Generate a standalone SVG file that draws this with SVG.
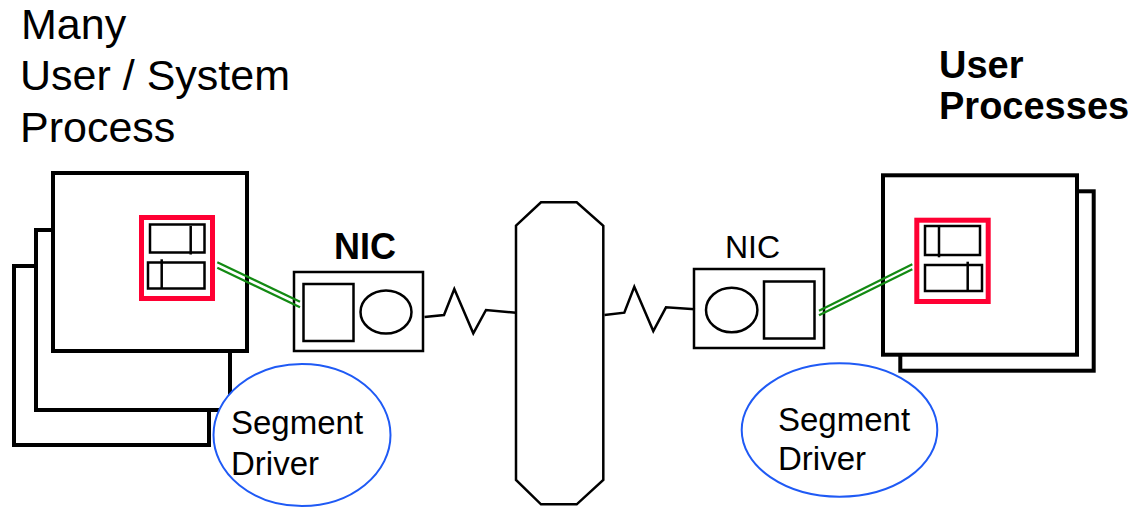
<svg xmlns="http://www.w3.org/2000/svg" width="1133" height="507" viewBox="0 0 1133 507">
  <style>
    .txt { font-family: "Liberation Sans", Arial, sans-serif; fill: #000; }
    .bold { font-weight: bold; }
    .host { fill: #fff; stroke: #000; stroke-width: 4; }
    .nic { fill: #fff; stroke: #000; stroke-width: 2.5; }
    .port { fill: none; stroke: #ff0033; stroke-width: 5; }
    .buf { fill: none; stroke: #000; stroke-width: 2.5; }
    .drv { fill: #fff; stroke: #1f5af5; stroke-width: 2; }
    .wire { fill: none; stroke: #000; stroke-width: 2.5; stroke-linejoin: miter; }
    .link { stroke: #138a13; stroke-width: 2.2; }
  </style>
  <rect width="1133" height="507" fill="#fff"/>

  <!-- headings -->
  <g id="label-left">
    <text class="txt" x="21" y="38.5" font-size="43">Many</text>
    <text class="txt" x="20" y="90" font-size="43">User / System</text>
    <text class="txt" x="20" y="141.5" font-size="43">Process</text>
  </g>
  <g id="label-right">
    <text class="txt bold" x="939" y="78" font-size="38">User</text>
    <text class="txt bold" x="939" y="119" font-size="38">Processes</text>
  </g>

  <!-- left host: stack of process windows -->
  <g id="left-host">
    <rect class="host" x="14" y="266" width="195" height="179"/>
    <rect class="host" x="36" y="230" width="194" height="180"/>
    <rect class="host" x="53" y="173" width="194" height="178"/>
    <rect class="port" x="141.5" y="217.5" width="71" height="81"/>
    <rect class="buf" x="150" y="224.5" width="54.5" height="28"/>
    <line class="buf" x1="190.7" y1="226" x2="190.7" y2="254.5"/>
    <rect class="buf" x="148" y="262.5" width="56.5" height="26"/>
    <line class="buf" x1="161.7" y1="259.3" x2="161.7" y2="288.5"/>
  </g>

  <g id="left-driver">
    <ellipse class="drv" cx="302" cy="435" rx="88.5" ry="71"/>
    <text class="txt" x="231" y="434" font-size="33">Segment</text>
    <text class="txt" x="231" y="475" font-size="33">Driver</text>
  </g>

  <!-- left network interface -->
  <g id="left-nic">
    <text class="txt bold" x="334" y="259" font-size="36">NIC</text>
    <rect class="nic" x="294" y="272" width="129" height="79"/>
    <rect class="nic" x="303.5" y="284" width="50" height="57"/>
    <ellipse class="nic" cx="386" cy="312" rx="25.5" ry="21.5"/>
  </g>

  <!-- shared segment -->
  <g id="bus">
    <polygon class="nic" points="516,225.7 541,202.3 576.7,202.3 603.3,225.7 603.3,480 576.7,504.3 541,504.3 516,480"/>
  </g>

  <!-- right network interface -->
  <g id="right-nic">
    <text class="txt" x="725" y="258.3" font-size="32">NIC</text>
    <rect class="nic" x="694" y="269" width="130" height="79"/>
    <ellipse class="nic" cx="731.7" cy="310" rx="25.7" ry="22.3"/>
    <rect class="nic" x="764" y="281.5" width="50.5" height="57"/>
  </g>

  <!-- right host -->
  <g id="right-host">
    <rect class="host" x="900.3" y="191.3" width="193.4" height="179.4"/>
    <rect class="host" x="883" y="175.3" width="194" height="179.4"/>
    <rect class="port" x="916.8" y="220.2" width="71.4" height="81.3"/>
    <rect class="buf" x="925" y="226" width="55" height="29"/>
    <line class="buf" x1="939" y1="227" x2="939" y2="257.3"/>
    <rect class="buf" x="925" y="265" width="57" height="26"/>
    <line class="buf" x1="967.7" y1="261.7" x2="967.7" y2="291"/>
  </g>

  <g id="right-driver">
    <ellipse class="drv" cx="839.5" cy="430" rx="97.8" ry="66.7"/>
    <text class="txt" x="778" y="431" font-size="33">Segment</text>
    <text class="txt" x="778" y="470" font-size="33">Driver</text>
  </g>

  <!-- connectors -->
  <g id="connectors">
    <line class="link" x1="217.3" y1="262.3" x2="300" y2="301.7"/>
    <line class="link" x1="217.3" y1="267.7" x2="300" y2="307.3"/>
    <polyline class="wire" points="424.5,317 444,315 454.3,289 473.3,333.3 486,310 516,312.7"/>
    <polyline class="wire" points="604.5,315 624.3,312.7 634.3,286.7 653.3,331 666,307.3 695,309.3"/>
    <line class="link" x1="819" y1="310.7" x2="912.3" y2="264.3"/>
    <line class="link" x1="819" y1="315.3" x2="912.3" y2="269.3"/>
  </g>
</svg>
